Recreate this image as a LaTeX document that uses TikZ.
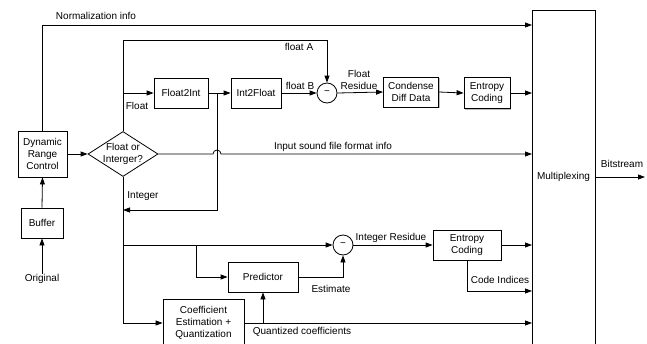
\documentclass[tikz,border=0pt]{standalone}
\usepackage{fontspec}
\setmainfont{Liberation Sans}
\usetikzlibrary{arrows.meta,shapes.geometric,shadows}
\begin{document}
\begin{tikzpicture}[x=1pt,y=-1pt,
  font=\fontsize{10}{12}\selectfont,
  line width=0.8pt,
  arr/.style={-{Triangle[length=7pt,width=5pt]}},
  blk/.style={draw,fill=white,align=center,inner sep=1pt,
    drop shadow={shadow xshift=1.3pt,shadow yshift=-1.3pt,fill=black!45,opacity=.6}},
  sub/.style={draw,circle,fill=white,minimum size=20pt,inner sep=0pt},
  lbl/.style={inner sep=0pt,align=center}]
\useasboundingbox (0,0) rectangle (647,343);
\clip (0,0) rectangle (647,343);
% blocks
\node[blk,minimum width=49pt,minimum height=46pt] (drc) at (42.5,154) {Dynamic\\Range\\Control};
\node[blk,minimum width=42pt,minimum height=30pt] (buf) at (42,223) {Buffer};
\node[lbl] (orig) at (42,279) {Original};
\node[diamond,draw,fill=white,minimum width=70pt,minimum height=45pt,inner sep=0pt,
  label={[lbl,align=center]center:Float or\\Interger?}] (dia) at (123,154) {};
\node[blk,minimum width=54pt,minimum height=30pt] (f2i) at (181,93) {Float2Int};
\node[blk,minimum width=50pt,minimum height=30pt] (i2f) at (256,93) {Int2Float};
\node[sub] (c1) at (327,93) {−};
\node[blk,minimum width=55pt,minimum height=30pt] (cdd) at (411,92) {Condense\\Diff Data};
\node[blk,minimum width=46pt,minimum height=31pt] (ec1) at (487,93) {Entropy\\Coding};
\node[blk,minimum width=63pt,minimum height=334pt] (mux) at (563.5,177) {Multiplexing};
\node[sub] (c2) at (343,245) {−};
\node[blk,minimum width=68pt,minimum height=30pt] (ec2) at (467,245) {Entropy\\Coding};
\node[blk,minimum width=70pt,minimum height=30pt] (pred) at (263,277) {Predictor};
\node[blk,minimum width=81pt,minimum height=48pt] (coef) at (203.5,323) {Coefficient\\Estimation +\\Quantization};
% coordinates
\coordinate (m1) at (532,25);
\coordinate (m2) at (532,93);
\coordinate (m3) at (532,154);
\coordinate (m4) at (532,245);
\coordinate (m5) at (532,291);
\coordinate (m6) at (532,323);
\coordinate (fa) at (123,40);
\coordinate (j1) at (217,93);
\coordinate (j2) at (217,210);
\coordinate (j3) at (123,245);
\coordinate (j4) at (196,245);
\coordinate (h1) at (213,154);
\coordinate (h2) at (221,154);
\coordinate (bs) at (645,177);
% connectors
\draw[arr] (orig.north) -- (buf.south);
\draw[arr] (buf.north) -- (drc.south);
\draw[arr] (drc.east) -- (dia.west);
\draw[arr] (drc.north) |- (m1);
\draw[arr] (dia.north) -- (fa) -| (c1.north);
\draw[arr] (dia.north |- f2i.west) -- (f2i.west);
\draw[arr] (f2i.east) -- (i2f.west);
\draw[arr] (j1) -- (j2) -- (dia.south |- j2);
\draw[arr] (i2f.east) -- (c1.west);
\draw[arr] (c1.east) -- (cdd.west);
\draw[arr] (cdd.east) -- (ec1.west);
\draw[arr] (ec1.east) -- (m2);
\draw[arr] (dia.east) -- (h1) arc (180:360:4) -- (m3);
\draw[arr] (dia.south) |- (coef.west);
\draw[arr] (j3) -- (c2.west);
\draw[arr] (j4) |- (pred.west);
\draw[arr] (pred.east) -| (c2.south);
\draw[arr] (c2.east) -- (ec2.west);
\draw[arr] (ec2.east) -- (m4);
\draw[arr] (ec2.south) |- (m5);
\draw[arr] (coef.east) -- (m6);
\draw[arr] (pred.south |- coef.east) -- (pred.south);
\draw[arr] (mux.east) -- (bs);
% labels
\node[lbl] at (96,16) {Normalization info};
\node[lbl] at (299,47) {float A};
\node[lbl] at (300,86) {float B};
\node[lbl] at (359,80) {Float\\Residue};
\node[lbl] at (137,106) {Float};
\node[lbl] at (143,196) {Integer};
\node[lbl] at (333,147) {Input sound file format info};
\node[lbl] at (331,289) {Estimate};
\node[lbl] at (391,238) {Integer Residue};
\node[lbl] at (500,280) {Code Indices};
\node[lbl] at (302,332) {Quantized coefficients};
\node[lbl] at (622,164) {Bitstream};
\end{tikzpicture}
\end{document}
